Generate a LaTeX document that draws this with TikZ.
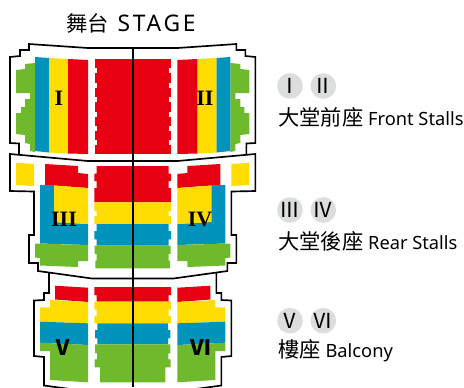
\documentclass[tikz,border=0pt]{standalone}
\usepackage{fontspec}
\setmainfont{Noto Sans}
\newfontfamily\cjk{Noto Sans CJK TC}
\newfontfamily\blockserif{Liberation Serif}
\definecolor{seatred}{HTML}{E60012}
\definecolor{seatyellow}{HTML}{FFDD00}
\definecolor{seatblue}{HTML}{0093BC}
\definecolor{seatgreen}{HTML}{6FBA2C}
\definecolor{chipgray}{HTML}{DCDDDD}
\newcommand{\cjkbig}{\cjk\fontsize{12.1}{14}\selectfont}
\tikzset{
  wall/.style={draw=black,line width=0.95pt,line join=miter},
  blockname/.style={font=\blockserif\bfseries\fontsize{12.5}{14}\selectfont,inner sep=0pt},
  blocksans/.style={font=\cjk\bfseries\fontsize{12}{14}\selectfont,inner sep=0pt},
  chip/.style={circle,fill=chipgray,minimum size=0.49cm,inner sep=0pt,font=\cjk\fontsize{11.8}{14}\selectfont},
  caption/.style={anchor=west,inner sep=0pt,font=\fontsize{10.4}{13}\selectfont},
}
%% one half of the hall, drawn twice
\newcommand{\halfplan}{
  %% Walls
  \draw[wall] (133,48) -- (88,48) -- (29,44) -- (29,50) -- (20,50) -- (20,56) -- (10,57)
    -- (10,143) -- (19,143.5) -- (19,155);
  \draw[wall] (133,161) -- (88,161) -- (10,154) -- (10,191) -- (34,191.5) -- (34,235)
    -- (29,235) -- (29,263) -- (38,263) -- (38,271) -- (92,278.5) -- (133,278.5);
  \draw[wall] (49,273) -- (49,293) -- (44,293) -- (44,300) -- (34,300.5) -- (34,356)
    -- (44,357) -- (44,385.5) -- (92,392);

  %% Stalls, front
  \fill[seatgreen] (35,63) -- (25,64) -- (25,69) -- (16,70) -- (16,93) -- (30,93) -- (30,99)
    -- (25,99) -- (25,107) -- (21,107) -- (21,113) -- (16,113) -- (16,134) -- (25,135)
    -- (25,143) -- (30,144) -- (30,151) -- (35,152) -- cycle;
  \fill[seatblue] (35,57) -- (49,58) -- (49,152.5) -- (35,151) -- cycle;
  \fill[seatyellow] (49,58) -- (68,59) -- (68,153.5) -- (49,152.5) -- cycle;
  \fill[seatred] (68,59) -- (88,60) -- (88,154) -- (68,153.5) -- cycle;
  \fill[seatred] (94.5,59) rectangle (133,154);
  \foreach \y in {68,83,97,112,126,140}
    \fill[white] (94,\y) rectangle (96.7,\y+5);

  %% Stalls, rear
  \fill[seatyellow] (16,162.7) -- (34,164) -- (34,186) -- (16,185) -- cycle;
  \fill[seatred] (45,164) -- (78,166) -- (78,173) -- (88,174) -- (88,188) -- (54,185.5) -- (45,185) -- cycle;
  \fill[seatblue] (40,185) -- (54,185) -- (54,222) -- (88,224) -- (88,245) -- (40,243.5) -- cycle;
  \fill[seatyellow] (54,185.5) -- (88,188) -- (88,224) -- (54,222) -- cycle;
  \fill[seatgreen] (35,243.5) -- (88,245) -- (88,261) -- (78,261) -- (78,267) -- (40,265.5)
    -- (40,258) -- (35,257.5) -- cycle;
  \fill[seatred] (133,166) -- (96.7,166) -- (96.7,173.5) -- (94.3,173.5) -- (94.3,181)
    -- (96.7,181) -- (96.7,188) -- (94.3,188) -- (94.3,202.3) -- (133,202.3) -- cycle;
  \fill[seatyellow] (133,202.3) -- (94.3,202.3) -- (94.3,211) -- (96.7,211) -- (96.7,216)
    -- (94.3,216) -- (94.3,224) -- (133,224) -- cycle;
  \fill[seatblue] (133,224) -- (96.7,224) -- (96.7,231) -- (94.3,231) -- (94.3,239.3)
    -- (96.7,239.3) -- (96.7,245.7) -- (133,245.7) -- cycle;
  \fill[seatgreen] (133,245.7) -- (94.7,245.7) -- (94.7,254) -- (96.7,254) -- (96.7,260.7)
    -- (95.3,260.7) -- (95.3,268.3) -- (133,268.3) -- cycle;

  %% Balcony
  \fill[seatred] (55,285.7) -- (88,287.7) -- (88,302) -- (55,299.5) -- cycle;
  \fill[seatyellow] (50,300) -- (88,302) -- (88,323.3) -- (40,321.7) -- (40,307.3) -- (50,307.3) -- cycle;
  \fill[seatblue] (40,321.7) -- (88,323.3) -- (88,345) -- (40,342.7) -- cycle;
  \fill[seatgreen] (40,342.7) -- (88,345) -- (88,382.3) -- (50,380) -- (50,351) -- (40,351) -- cycle;
  \fill[seatred] (133,287) -- (94.3,287) -- (94.3,295) -- (96.7,295) -- (96.7,301.7) -- (133,301.7) -- cycle;
  \fill[seatyellow] (133,301.7) -- (94.3,301.7) -- (94.3,309.5) -- (96.7,309.5) -- (96.7,316)
    -- (94.3,316) -- (94.3,323.3) -- (133,323.3) -- cycle;
  \fill[seatblue] (133,323.3) -- (97.3,323.3) -- (97.3,330) -- (95,330) -- (95,338.3)
    -- (97.3,338.3) -- (97.3,344.3) -- (133,344.3) -- cycle;
  \fill[seatgreen] (133,344.3) -- (95,344.3) -- (95,353.3) -- (97,353.3) -- (97,359.3)
    -- (94.7,359.3) -- (94.7,367.3) -- (100,367.3) -- (100,382.3) -- (133,382.3) -- cycle;
}

\begin{document}
\begin{tikzpicture}[x=0.02cm,y=-0.02cm]
  \useasboundingbox (0,0) rectangle (464,387);
  \clip (0,0) rectangle (464,387);

  \halfplan
  \begin{scope}[shift={(265.4,0)},xscale=-1]
    \halfplan
  \end{scope}

  %% Centre line
  \draw[black,line width=1.05pt] (132.7,48) -- (132.7,387);

  \node[font=\fontsize{13}{15}\selectfont\addfontfeature{LetterSpace=12},inner sep=0pt] (stage) at (131,23)
    {{\cjkbig 舞台} STAGE};

  \node[blockname] (blockI) at (59,98) {I};
  \node[blockname] (blockII) at (205,98) {II};
  \node[blockname] (blockIII) at (64,219) {III};
  \node[blockname] (blockIV) at (200,219) {IV};
  \node[blocksans] (blockV) at (63,348) {Ⅴ};
  \node[blocksans] (blockVI) at (201,348) {Ⅵ};

  %% Legend
  \node[chip] (chipI) at (290,86) {Ⅰ};
  \node[chip] (chipII) at (323.3,86) {Ⅱ};
  \node[caption] (front) at (278,117) {{\cjkbig 大堂前座} Front Stalls};

  \node[chip] (chipIII) at (290,210) {Ⅲ};
  \node[chip] (chipIV) at (323.3,210) {Ⅳ};
  \node[caption] (rear) at (278,241.5) {{\cjkbig 大堂後座} Rear Stalls};

  \node[chip] (chipV) at (290,320.7) {Ⅴ};
  \node[chip] (chipVI) at (323.3,320.7) {Ⅵ};
  \node[caption] (balcony) at (278,351) {{\cjkbig 樓座} Balcony};
\end{tikzpicture}
\end{document}
